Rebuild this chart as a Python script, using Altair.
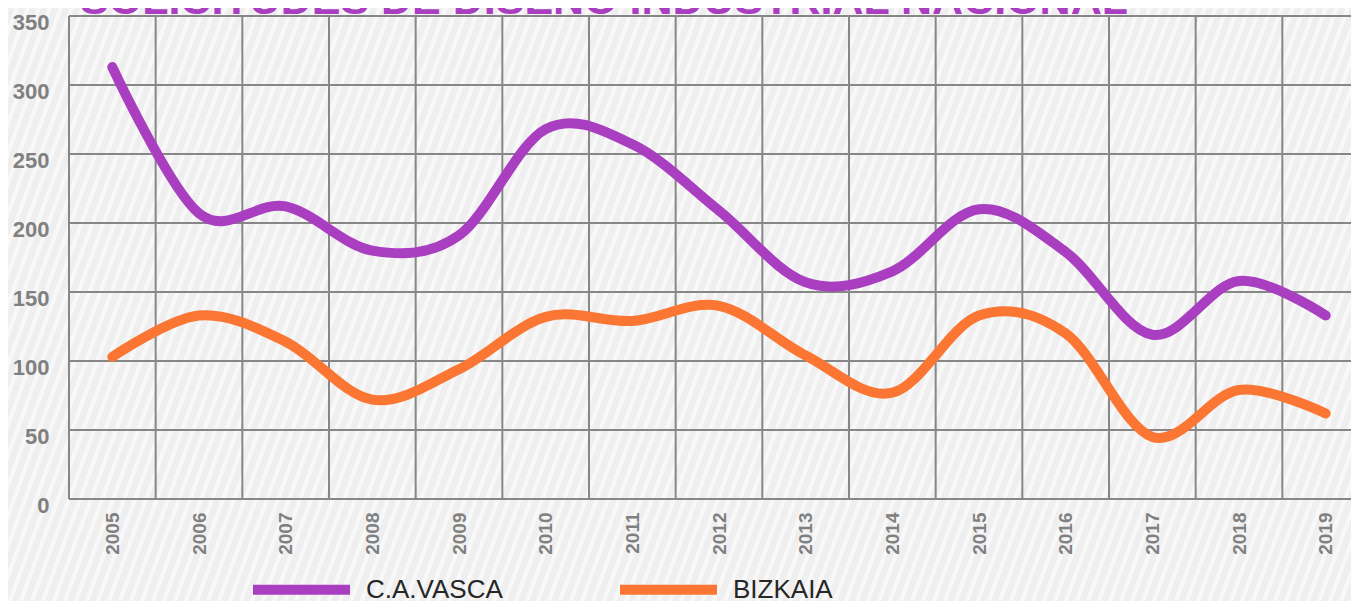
import math
import altair as alt
import pandas as pd

# ---- data ----
years = [2005, 2006, 2007, 2008, 2009, 2010, 2011, 2012, 2013, 2014, 2015, 2016, 2017, 2018, 2019]
vasca = [313, 207, 212, 180, 191, 268, 257, 209, 157, 165, 210, 179, 119, 158, 133]
bizkaia = [103, 133, 114, 72, 94, 132, 129, 140, 104, 77, 133, 120, 45, 79, 62]
series_names = ["C.A.VASCA", "BIZKAIA"]
series_colors = ["#A93FC0", "#FB7633"]
y_ticks = [0, 50, 100, 150, 200, 250, 300, 350]
x_bounds = [y - 0.5 for y in years]
title_text = "SOLICITUDES DE DISEÑO INDUSTRIAL NACIONAL"

rows = []
for name, vals in zip(series_names, [vasca, bizkaia]):
    for yr, v in zip(years, vals):
        rows.append({"year": yr, "value": v, "serie": name})
df = pd.DataFrame(rows)

# ---- layout ----
PLOT_W, PLOT_H = 1282, 483
PAD = {"left": 61, "top": 8, "right": 0, "bottom": 102}
SVG_W = PAD["left"] + PLOT_W + PAD["right"]
SVG_H = PAD["top"] + PLOT_H + PAD["bottom"]
px_per_year = 1300 / 15.0
x_domain = [2004.5, 2004.5 + PLOT_W / px_per_year]

# ---- hatched background gradient ----
ang = math.radians(70)
nx, ny = math.sin(ang), math.cos(ang)
p, q = nx * SVG_W, ny * SVG_H
s = (p + q) / (p * p + q * q)
D = p + q
period = 11 * math.sin(ang)
dark, light = "#EFEFEF", "#F8F8F8"
stops = []
k = 0
while k * period < D:
    a = k * period / D
    b = min(1.0, (k * period + 0.6 * period) / D)
    c = min(1.0, (k + 1) * period / D)
    stops += [alt.GradientStop(offset=a, color=dark), alt.GradientStop(offset=b, color=dark),
              alt.GradientStop(offset=b, color=light), alt.GradientStop(offset=c, color=light)]
    k += 1
grad = alt.LinearGradient(gradient="linear", stops=stops, x1=0, y1=0, x2=s * p, y2=s * q)

GRID = "#878787"
FONT = "Liberation Sans"
TITLE_COLOR = "#A93FC0"

x_scale = alt.Scale(domain=x_domain, nice=False, zero=False)
y_scale = alt.Scale(domain=[0, 350], nice=False)
x_axis = alt.Axis(values=years, format="d", title=None, grid=False, domain=False, ticks=False,
                  labelAngle=270, labelAlign="right", labelBaseline="middle", labelPadding=13,
                  labelFont=FONT, labelFontSize=19, labelFontWeight="bold", labelColor="#808080",
                  zindex=1)
y_axis = alt.Axis(values=y_ticks, title=None, grid=False, domain=False, ticks=False,
                  labelPadding=20, labelOffset=6, labelFont=FONT, labelFontSize=22,
                  labelFontWeight="bold", labelColor="#808080", zindex=1)

bg = alt.Chart(alt.Data(values=[{}])).mark_rect(fill=grad, clip=False).encode(
    x=alt.value(-PAD["left"]), x2=alt.value(SVG_W - PAD["left"]),
    y=alt.value(-PAD["top"]), y2=alt.value(SVG_H - PAD["top"]))

vrules = alt.Chart(pd.DataFrame({"b": x_bounds})).mark_rule(color=GRID, strokeWidth=2).encode(
    x=alt.X("b:Q", scale=x_scale, axis=x_axis))

hrules = alt.Chart(pd.DataFrame({"t": y_ticks})).mark_rule(color=GRID, strokeWidth=2).encode(
    y=alt.Y("t:Q", scale=y_scale, axis=y_axis))

lines = alt.Chart(df).mark_line(strokeWidth=10, strokeCap="round", strokeJoin="round",
                                interpolate="cardinal", tension=0).encode(
    x=alt.X("year:Q", scale=x_scale, axis=x_axis),
    y=alt.Y("value:Q", scale=y_scale, axis=y_axis),
    color=alt.Color("serie:N", scale=alt.Scale(domain=series_names, range=series_colors),
                    legend=alt.Legend(title=None, orient="none", direction="horizontal",
                                      legendX=179, legendY=520, symbolType="stroke",
                                      symbolSize=9409, symbolStrokeWidth=10,
                                      labelFont=FONT, labelFontSize=26, labelColor="#262626",
                                      labelOffset=11, columnPadding=97, padding=0, zindex=1)),
    detail="serie:N",
)

# chart title, cut at the top edge as in the reference
title = alt.Chart(alt.Data(values=[{"t": title_text}])).mark_text(
    align="left", baseline="alphabetic", font=FONT, fontSize=43, fontWeight="bold",
    color=TITLE_COLOR, clip=False).encode(
    text="t:N", x=alt.value(11), y=alt.value(-2))

chart = alt.layer(bg, vrules, hrules, lines, title).properties(
    width=PLOT_W, height=PLOT_H,
    autosize=alt.AutoSizeParams(type="none"),
    padding=PAD,
).configure(background="#F2F2F2").configure_view(stroke=None)

chart.save("out.html", embed_options={"renderer": "svg", "actions": False})
